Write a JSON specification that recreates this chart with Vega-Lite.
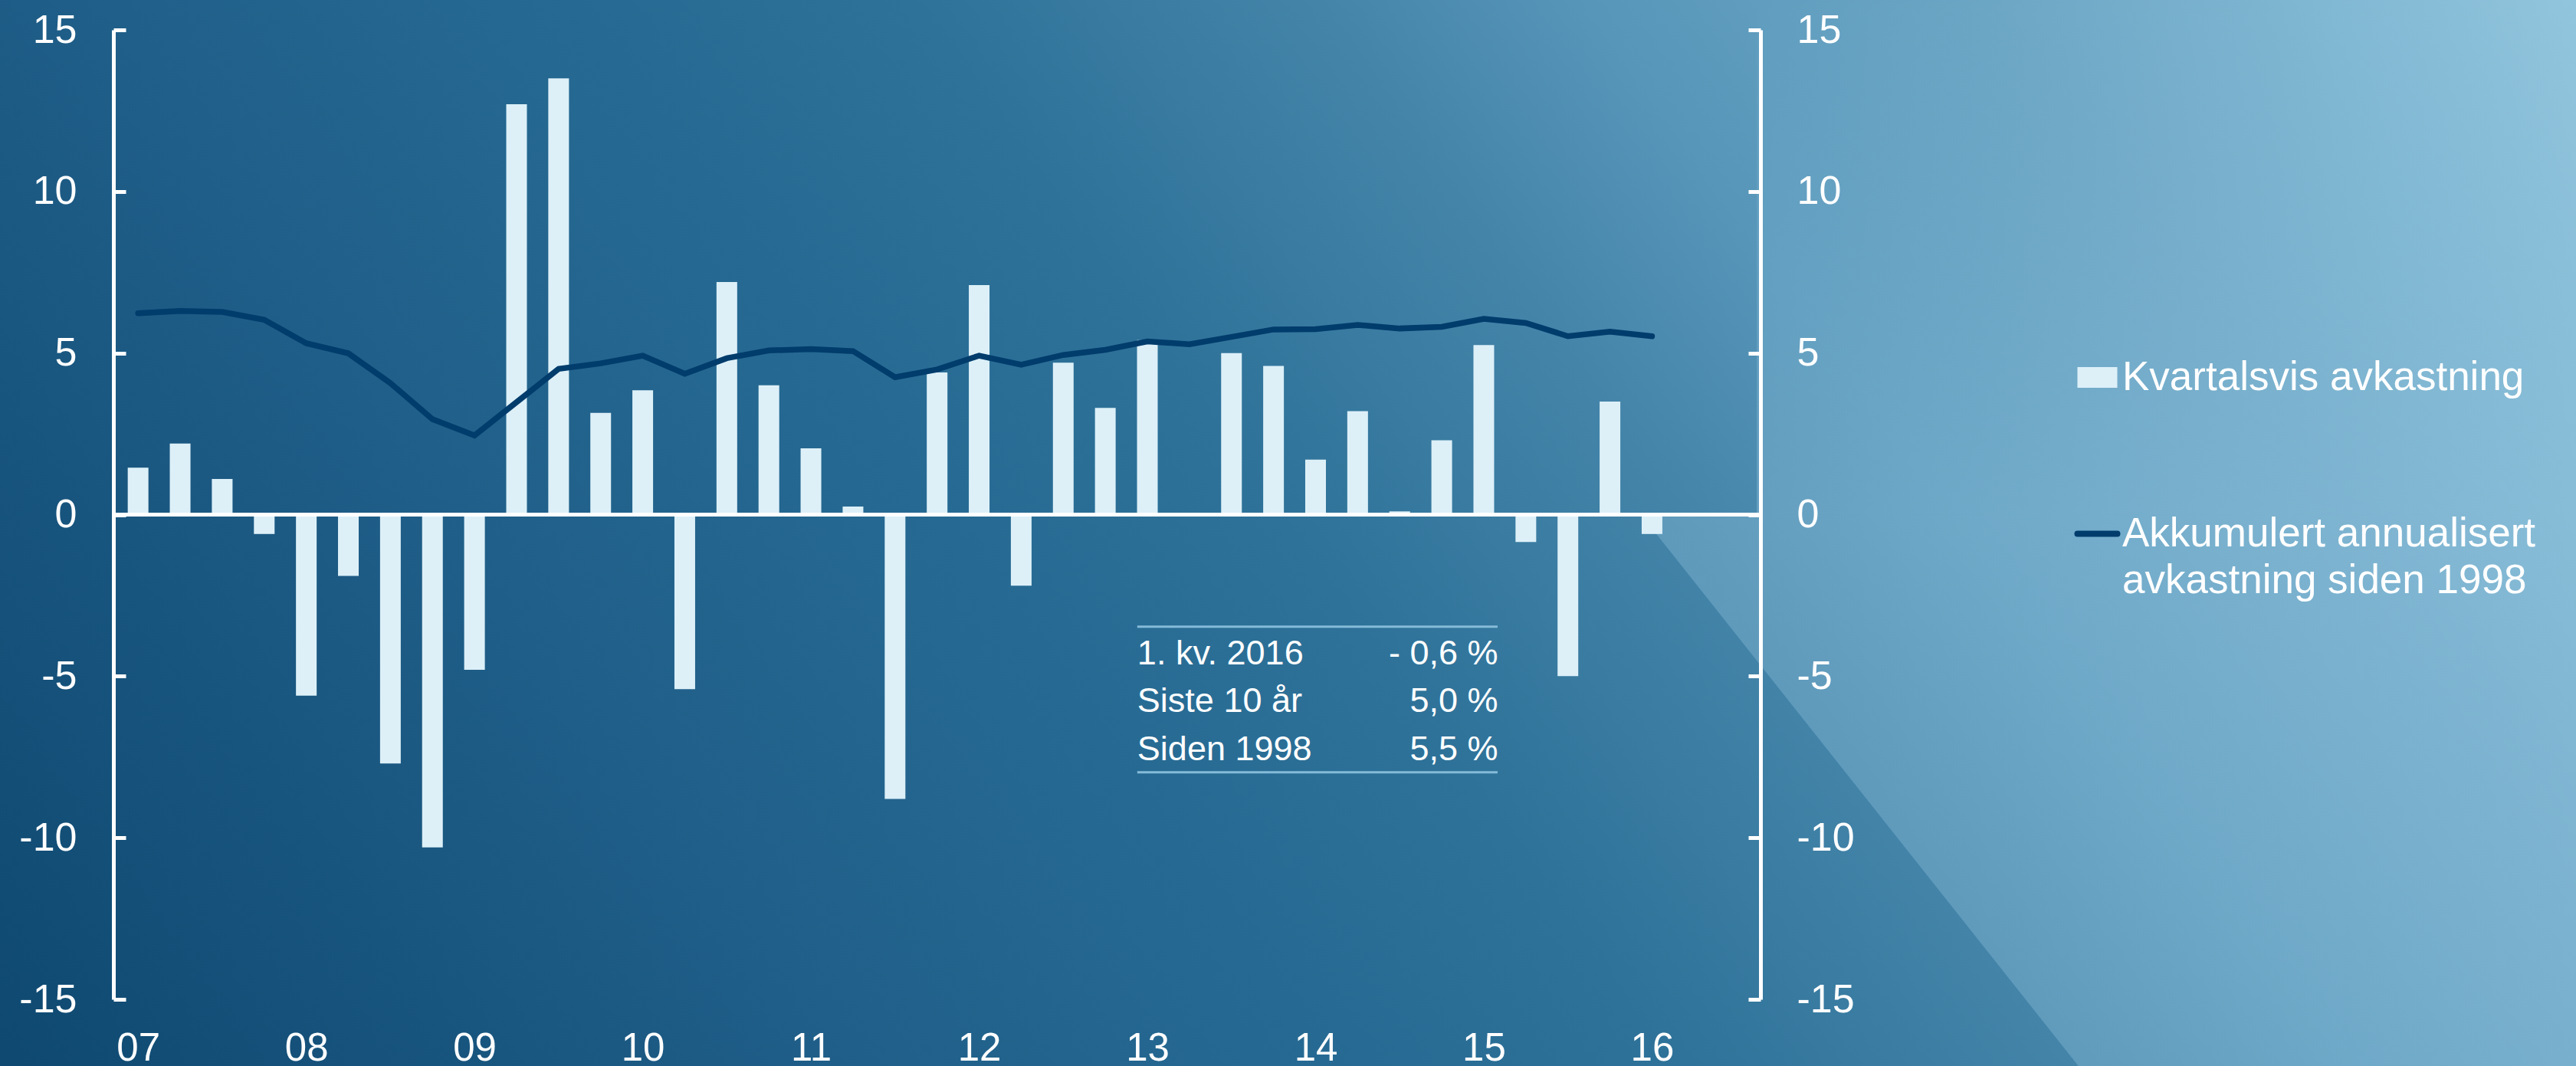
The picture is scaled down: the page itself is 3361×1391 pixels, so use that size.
{
  "$schema": "https://vega.github.io/schema/vega-lite/v6.json",
  "width": 2149,
  "height": 1265,
  "autosize": {"type": "none"},
  "padding": {"left": 148, "top": 39, "right": 1064, "bottom": 87},
  "background": "#2a6d96",
  "config": {
    "view": {"stroke": null},
    "font": "Liberation Sans"
  },
  "datasets": {
    "kvartal": [
      {"kvartal": 2007.00, "avkastning": 1.45, "akkumulert": 6.23},
      {"kvartal": 2007.25, "avkastning": 2.2, "akkumulert": 6.3},
      {"kvartal": 2007.50, "avkastning": 1.1, "akkumulert": 6.27},
      {"kvartal": 2007.75, "avkastning": -0.6, "akkumulert": 6.03},
      {"kvartal": 2008.00, "avkastning": -5.6, "akkumulert": 5.3},
      {"kvartal": 2008.25, "avkastning": -1.9, "akkumulert": 4.99},
      {"kvartal": 2008.50, "avkastning": -7.7, "akkumulert": 4.07},
      {"kvartal": 2008.75, "avkastning": -10.3, "akkumulert": 2.95},
      {"kvartal": 2009.00, "avkastning": -4.8, "akkumulert": 2.45},
      {"kvartal": 2009.25, "avkastning": 12.7, "akkumulert": 3.48},
      {"kvartal": 2009.50, "avkastning": 13.5, "akkumulert": 4.51},
      {"kvartal": 2009.75, "avkastning": 3.15, "akkumulert": 4.68},
      {"kvartal": 2010.00, "avkastning": 3.85, "akkumulert": 4.92},
      {"kvartal": 2010.25, "avkastning": -5.4, "akkumulert": 4.36},
      {"kvartal": 2010.50, "avkastning": 7.2, "akkumulert": 4.84},
      {"kvartal": 2010.75, "avkastning": 4.0, "akkumulert": 5.08},
      {"kvartal": 2011.00, "avkastning": 2.05, "akkumulert": 5.12},
      {"kvartal": 2011.25, "avkastning": 0.25, "akkumulert": 5.06},
      {"kvartal": 2011.50, "avkastning": -8.8, "akkumulert": 4.25},
      {"kvartal": 2011.75, "avkastning": 4.4, "akkumulert": 4.49},
      {"kvartal": 2012.00, "avkastning": 7.1, "akkumulert": 4.92},
      {"kvartal": 2012.25, "avkastning": -2.2, "akkumulert": 4.64},
      {"kvartal": 2012.50, "avkastning": 4.7, "akkumulert": 4.94},
      {"kvartal": 2012.75, "avkastning": 3.3, "akkumulert": 5.1},
      {"kvartal": 2013.00, "avkastning": 5.4, "akkumulert": 5.36},
      {"kvartal": 2013.25, "avkastning": 0.0, "akkumulert": 5.27},
      {"kvartal": 2013.50, "avkastning": 5.0, "akkumulert": 5.5},
      {"kvartal": 2013.75, "avkastning": 4.6, "akkumulert": 5.73},
      {"kvartal": 2014.00, "avkastning": 1.7, "akkumulert": 5.74},
      {"kvartal": 2014.25, "avkastning": 3.2, "akkumulert": 5.87},
      {"kvartal": 2014.50, "avkastning": 0.1, "akkumulert": 5.76},
      {"kvartal": 2014.75, "avkastning": 2.3, "akkumulert": 5.81},
      {"kvartal": 2015.00, "avkastning": 5.25, "akkumulert": 6.06},
      {"kvartal": 2015.25, "avkastning": -0.85, "akkumulert": 5.93},
      {"kvartal": 2015.50, "avkastning": -5.0, "akkumulert": 5.52},
      {"kvartal": 2015.75, "avkastning": 3.5, "akkumulert": 5.66},
      {"kvartal": 2016.00, "avkastning": -0.6, "akkumulert": 5.52}
    ],
    "tabell": [
      {"rad": 1, "tekst": "1. kv. 2016", "verdi": "- 0,6 %"},
      {"rad": 2, "tekst": "Siste 10 år", "verdi": "5,0 %"},
      {"rad": 3, "tekst": "Siden 1998", "verdi": "5,5 %"}
    ]
  },
  "resolve": {"axis": {"x": "independent", "y": "independent"}},
  "layer": [
    {
      "data": {"values": [{}]},
      "mark": {
        "type": "rect",
        "clip": false,
        "fill": {
          "gradient": "linear",
          "x1": 0, "y1": 1, "x2": 1.1916, "y2": 0.647,
          "stops": [
            {"offset": 0, "color": "#0e4870"},
            {"offset": 0.25, "color": "#1f5e88"},
            {"offset": 0.4, "color": "#266a93"},
            {"offset": 0.5, "color": "#2e7299"},
            {"offset": 0.62, "color": "#4484a9"},
            {"offset": 0.7, "color": "#5796b9"},
            {"offset": 0.82, "color": "#6ca6c5"},
            {"offset": 0.9, "color": "#7cb4d0"},
            {"offset": 1, "color": "#93c6de"}
          ]
        }
      },
      "encoding": {
        "x": {"datum": 2006.1, "type": "quantitative", "axis": null},
        "x2": {"datum": 2021.6},
        "y": {"datum": 16.2, "type": "quantitative", "axis": null},
        "y2": {"datum": -17.4}
      }
    },
    {
      "data": {"values": [{}]},
      "mark": {
        "type": "rect",
        "clip": false,
        "fillOpacity": 0.25,
        "fill": {
          "gradient": "linear",
          "x1": 0.00553, "y1": 0, "x2": 0.4406, "y2": -0.2024,
          "stops": [
            {"offset": 0, "color": "rgba(181,224,245,0)"},
            {"offset": 0.002, "color": "rgba(181,224,245,1)"},
            {"offset": 1, "color": "rgba(181,224,245,1)"}
          ]
        }
      },
      "encoding": {
        "x": {"datum": 2015.9, "type": "quantitative", "axis": null},
        "x2": {"datum": 2021.6},
        "y": {"datum": 0, "type": "quantitative", "axis": null},
        "y2": {"datum": -17.4}
      }
    },
    {
      "data": {"values": [{}]},
      "mark": {
        "type": "rect",
        "clip": false,
        "fillOpacity": 0.25,
        "fill": {
          "gradient": "linear",
          "x1": 0, "y1": 1, "x2": 0, "y2": 0,
          "stops": [
            {"offset": 0, "color": "rgba(181,224,245,1)"},
            {"offset": 1, "color": "rgba(181,224,245,0)"}
          ]
        }
      },
      "encoding": {
        "x": {"datum": 2016.6222, "type": "quantitative", "axis": null},
        "x2": {"datum": 2021.6},
        "y": {"datum": 16.2, "type": "quantitative", "axis": null},
        "y2": {"datum": 0}
      }
    },
    {
      "data": {"name": "kvartal"},
      "mark": {"type": "bar", "width": 27},
      "encoding": {
        "x": {
          "field": "kvartal",
          "type": "quantitative",
          "scale": {"domain": [2006.8762, 2016.6222], "nice": false, "zero": false},
          "axis": {
            "values": [2007, 2008, 2009, 2010, 2011, 2012, 2013, 2014, 2015, 2016],
            "labelExpr": "substring(toString(datum.value), 2, 4)",
            "title": null,
            "grid": false,
            "domain": false,
            "ticks": false,
            "tickSize": 0,
            "labelPadding": 39,
            "labelFontSize": 51,
            "labelColor": "#ffffff",
            "labelFlush": false,
            "labelOverlap": false,
            "zindex": 2
          }
        },
        "y": {
          "field": "avkastning",
          "type": "quantitative",
          "scale": {"domain": [-15, 15], "nice": false, "zero": false},
          "axis": {
            "orient": "left",
            "values": [-15, -10, -5, 0, 5, 10, 15],
            "labelExpr": "toString(datum.value)",
            "title": null,
            "grid": false,
            "domainColor": "#ffffff",
            "domainWidth": 5,
            "tickColor": "#ffffff",
            "tickWidth": 5,
            "tickSize": -16,
            "labelPadding": 64,
            "labelFontSize": 52,
            "labelColor": "#ffffff",
            "labelFlush": false,
            "labelOverlap": false,
            "zindex": 2
          }
        },
        "color": {
          "datum": "Kvartalsvis avkastning",
          "scale": {
            "domain": ["Kvartalsvis avkastning", "Akkumulert annualisert avkastning siden 1998"],
            "range": ["#ddf0f8", "#003c6c"]
          },
          "legend": {
            "title": null,
            "orient": "none",
            "legendX": 2562,
            "legendY": 427,
            "direction": "vertical",
            "padding": 0,
            "rowPadding": 150,
            "labelFontSize": 53,
            "labelColor": "#ffffff",
            "labelLimit": 2000,
            "labelOffset": 6,
            "symbolSize": 2704,
            "symbolStrokeWidth": 8,
            "zindex": 2,
            "labelExpr": "datum.label == 'Akkumulert annualisert avkastning siden 1998' ? ['Akkumulert annualisert', 'avkastning siden 1998'] : datum.label",
            "encode": {
              "symbols": {
                "update": {
                  "shape": {"signal": "datum.value == 'Kvartalsvis avkastning' ? 'M-1,-0.52H1V0.52H-1Z' : 'stroke'"},
                  "fill": {"signal": "datum.value == 'Kvartalsvis avkastning' ? '#ddf0f8' : 'transparent'"},
                  "stroke": {"signal": "datum.value == 'Kvartalsvis avkastning' ? 'transparent' : '#003c6c'"},
                  "strokeWidth": {"signal": "datum.value == 'Kvartalsvis avkastning' ? 0 : 8"},
                  "strokeCap": {"value": "round"},
                  "size": {"value": 2704},
                  "opacity": {"value": 1}
                }
              },
              "labels": {
                "update": {
                  "lineHeight": {"value": 61}
                }
              }
            }
          }
        }
      }
    },
    {
      "data": {"values": [{}]},
      "mark": {"type": "rule", "color": "#ffffff", "strokeWidth": 5},
      "encoding": {
        "y": {"datum": 0, "type": "quantitative", "axis": null}
      }
    },
    {
      "data": {"name": "kvartal"},
      "mark": {"type": "line", "strokeWidth": 7.5, "strokeCap": "round"},
      "encoding": {
        "x": {"field": "kvartal", "type": "quantitative", "axis": null},
        "y": {
          "field": "akkumulert",
          "type": "quantitative",
          "axis": {
            "orient": "right",
            "values": [-15, -10, -5, 0, 5, 10, 15],
            "labelExpr": "toString(datum.value)",
            "title": null,
            "grid": false,
            "domainColor": "#ffffff",
            "domainWidth": 5,
            "tickColor": "#ffffff",
            "tickWidth": 5,
            "tickSize": -16,
            "labelPadding": 63,
            "labelFontSize": 52,
            "labelColor": "#ffffff",
            "labelFlush": false,
            "labelOverlap": false,
            "zindex": 2
          }
        },
        "color": {"datum": "Akkumulert annualisert avkastning siden 1998"}
      }
    },
    {
      "data": {"values": [{}]},
      "mark": {"type": "rule", "color": "#85bbd8", "strokeWidth": 3},
      "encoding": {
        "x": {"datum": 2012.94, "type": "quantitative", "axis": null},
        "x2": {"datum": 2015.082},
        "y": {"datum": -3.467, "type": "quantitative", "axis": null}
      }
    },
    {
      "data": {"values": [{}]},
      "mark": {"type": "rule", "color": "#85bbd8", "strokeWidth": 3},
      "encoding": {
        "x": {"datum": 2012.94, "type": "quantitative", "axis": null},
        "x2": {"datum": 2015.082},
        "y": {"datum": -7.973, "type": "quantitative", "axis": null}
      }
    },
    {
      "data": {"name": "tabell"},
      "transform": [{"filter": "datum.rad == 1"}],
      "mark": {"type": "text", "align": "left", "baseline": "alphabetic", "fontSize": 45, "color": "#ffffff"},
      "encoding": {
        "x": {"datum": 2012.94, "type": "quantitative", "axis": null},
        "y": {"datum": -4.643, "type": "quantitative", "axis": null},
        "text": {"field": "tekst"}
      }
    },
    {
      "data": {"name": "tabell"},
      "transform": [{"filter": "datum.rad == 1"}],
      "mark": {"type": "text", "align": "right", "baseline": "alphabetic", "fontSize": 45, "color": "#ffffff"},
      "encoding": {
        "x": {"datum": 2015.085, "type": "quantitative", "axis": null},
        "y": {"datum": -4.643, "type": "quantitative", "axis": null},
        "text": {"field": "verdi"}
      }
    },
    {
      "data": {"name": "tabell"},
      "transform": [{"filter": "datum.rad == 2"}],
      "mark": {"type": "text", "align": "left", "baseline": "alphabetic", "fontSize": 45, "color": "#ffffff"},
      "encoding": {
        "x": {"datum": 2012.94, "type": "quantitative", "axis": null},
        "y": {"datum": -6.106, "type": "quantitative", "axis": null},
        "text": {"field": "tekst"}
      }
    },
    {
      "data": {"name": "tabell"},
      "transform": [{"filter": "datum.rad == 2"}],
      "mark": {"type": "text", "align": "right", "baseline": "alphabetic", "fontSize": 45, "color": "#ffffff"},
      "encoding": {
        "x": {"datum": 2015.085, "type": "quantitative", "axis": null},
        "y": {"datum": -6.106, "type": "quantitative", "axis": null},
        "text": {"field": "verdi"}
      }
    },
    {
      "data": {"name": "tabell"},
      "transform": [{"filter": "datum.rad == 3"}],
      "mark": {"type": "text", "align": "left", "baseline": "alphabetic", "fontSize": 45, "color": "#ffffff"},
      "encoding": {
        "x": {"datum": 2012.94, "type": "quantitative", "axis": null},
        "y": {"datum": -7.608, "type": "quantitative", "axis": null},
        "text": {"field": "tekst"}
      }
    },
    {
      "data": {"name": "tabell"},
      "transform": [{"filter": "datum.rad == 3"}],
      "mark": {"type": "text", "align": "right", "baseline": "alphabetic", "fontSize": 45, "color": "#ffffff"},
      "encoding": {
        "x": {"datum": 2015.085, "type": "quantitative", "axis": null},
        "y": {"datum": -7.608, "type": "quantitative", "axis": null},
        "text": {"field": "verdi"}
      }
    }
  ]
}
